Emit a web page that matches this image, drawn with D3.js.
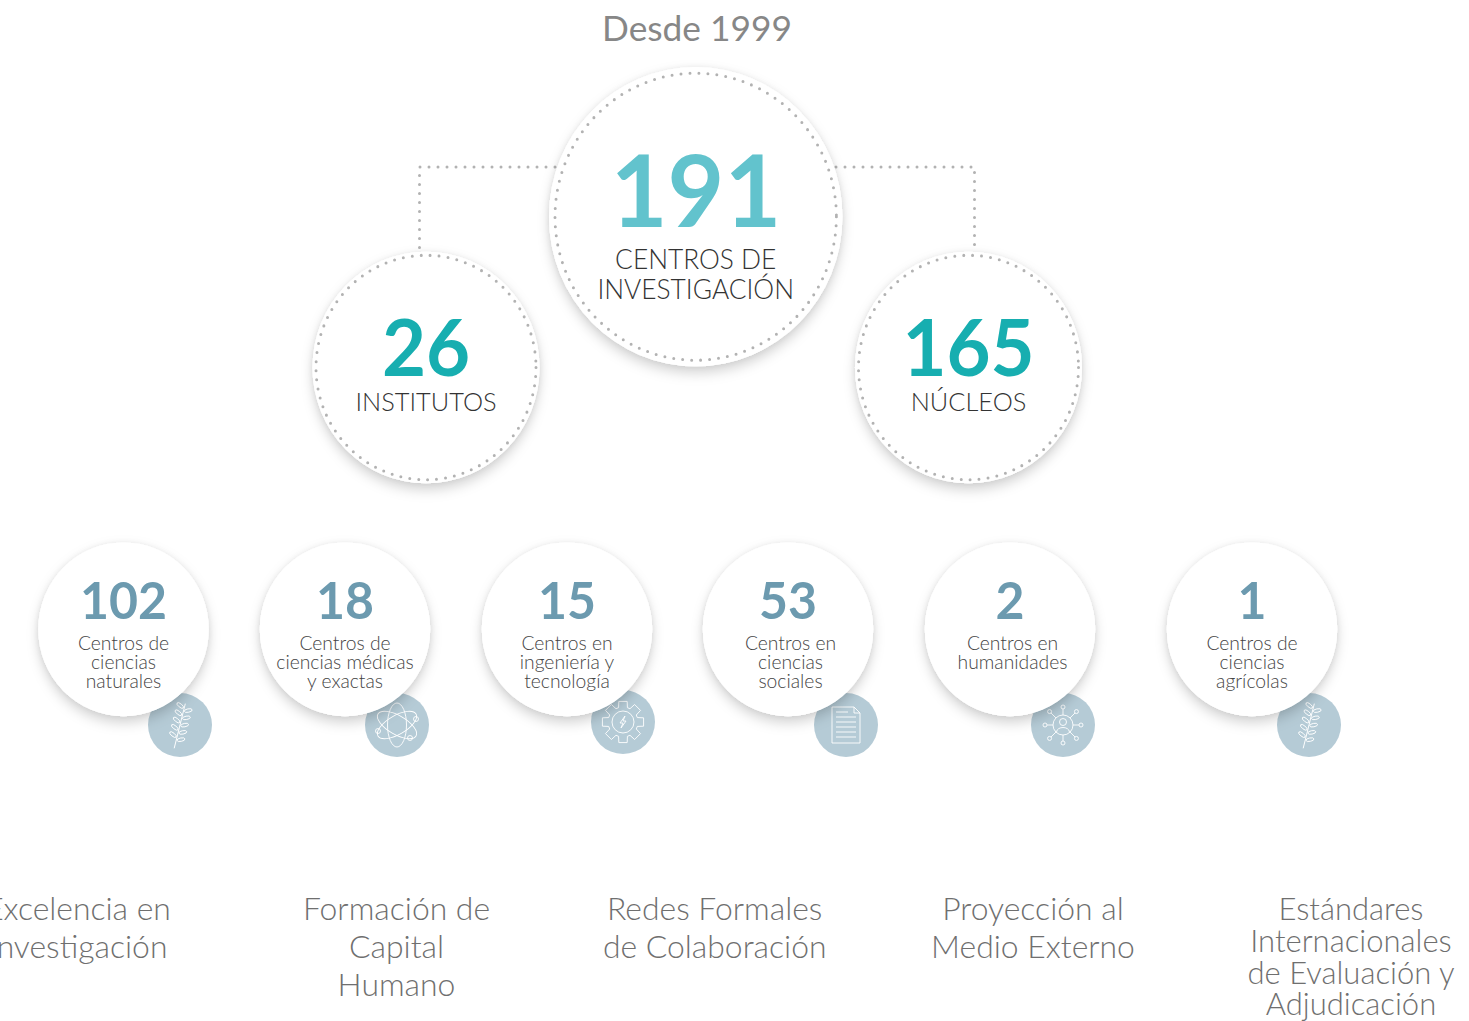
<!DOCTYPE html>
<html>
<head>
<meta charset="utf-8">
<script src="https://cdnjs.cloudflare.com/ajax/libs/d3/7.8.5/d3.min.js"></script>
<style>
  html, body { margin: 0; padding: 0; background: #fff; overflow: hidden; }
  text { font-family: Lato, sans-serif; text-anchor: middle; font-variant-ligatures: common-ligatures; }
</style>
</head>
<body>
<div id="chart"></div>
<script>
const title = "Desde 1999"

const mainValue = 191
const mainLabel = ["CENTROS DE", "INVESTIGACIÓN"]

const typeNames = ["INSTITUTOS", "NÚCLEOS"]
const typeValues = [26, 165]

const areaKeys = ["naturales", "medicas", "ingenieria", "sociales", "humanidades", "agricolas"]
const areaValues = [102, 18, 15, 53, 2, 1]
const areaLabels = [
    ["Centros de", "ciencias", "naturales"],
    ["Centros de", "ciencias médicas", "y exactas"],
    ["Centros en", "ingeniería y", "tecnología"],
    ["Centros en", "ciencias", "sociales"],
    ["Centros en", "humanidades"],
    ["Centros de", "ciencias", "agrícolas"]
]
const areaIcons = ["sprig", "atom", "gear", "doc", "network", "sprig"]

const pillars = [
    ["Excelencia en", "Investigación"],
    ["Formación de", "Capital", "Humano"],
    ["Redes Formales", "de Colaboración"],
    ["Proyección al", "Medio Externo"],
    ["Estándares", "Internacionales", "de Evaluación y", "Adjudicación"]
]

const width = 1469, height = 1021
// the original artwork is very slightly taller than wide
const stretch = 1.02

const svg = d3.select("#chart")
    .append("svg")
    .attr("width", width)
    .attr("height", height)

// soft shadow used by all the white circles
const defs = svg.append("defs")
const shadow = defs.append("filter")
    .attr("id", "shadow")
    .attr("x", "-30%").attr("y", "-30%")
    .attr("width", "160%").attr("height", "160%")
shadow.append("feDropShadow")
    .attr("dx", 0).attr("dy", 0).attr("stdDeviation", 2.5)
    .attr("flood-color", "#000").attr("flood-opacity", 0.06)
const shadow2 = defs.append("filter")
    .attr("id", "shadowBig")
    .attr("x", "-30%").attr("y", "-30%")
    .attr("width", "160%").attr("height", "160%")
shadow2.append("feDropShadow")
    .attr("dx", 0).attr("dy", 6).attr("stdDeviation", 6)
    .attr("flood-color", "#000").attr("flood-opacity", 0.18)

function whiteCircle(g, r) {
    g.append("circle").attr("r", r).attr("fill", "#fff").attr("filter", "url(#shadowBig)")
    g.append("circle").attr("r", r).attr("fill", "#fff").attr("filter", "url(#shadow)")
}

function dotStyle(sel) {
    return sel.attr("fill", "none")
        .attr("stroke", "#b2b2b2")
        .attr("stroke-width", 3)
        .attr("stroke-linecap", "round")
        .attr("stroke-dasharray", "0 9")
}

svg.append("text")
    .attr("x", 697).attr("y", 41)
    .attr("font-size", 35.3)
    .attr("fill", "#878787")
    .text(title)

// connectors, behind the circles
const typeX = d3.scaleOrdinal().domain(typeNames).range([426, 968.5])
const connector = d3.line()
dotStyle(svg.append("path")
    .attr("d", connector([[600, 167], [419.5, 167], [419.5, 260]])))
dotStyle(svg.append("path")
    .attr("d", connector([[800, 167], [974.5, 167], [974.5, 260]])))

// institutes and nuclei
typeNames.forEach((name, i) => {
    const g = svg.append("g").attr("transform", `translate(${typeX(name)}, 367.5) scale(1, ${stretch})`)
    whiteCircle(g, 113.5)
    dotStyle(g.append("circle").attr("r", 110))
    g.append("text")
        .attr("y", 8.5).attr("font-size", 76).attr("font-weight", 700)
        .attr("fill", "#17aeb0")
        .text(typeValues[i])
    g.append("text")
        .attr("y", 43).attr("font-size", 25.4).attr("font-weight", 300)
        .attr("fill", "#333")
        .text(name)
})

// main circle
const main = svg.append("g").attr("transform", `translate(695.7, 216.7) scale(1, ${stretch})`)
whiteCircle(main, 146.7)
dotStyle(main.append("circle").attr("r", 140.7))
main.append("text")
    .attr("x", 0.3).attr("y", 9.8).attr("font-size", 98).attr("font-weight", 700)
    .attr("fill", "#62c3cd")
    .text(mainValue)
mainLabel.forEach((t, i) => {
    main.append("text")
        .attr("x", 0).attr("y", 51.6 + i * 29).attr("font-size", 26.3).attr("font-weight", 300)
        .attr("fill", "#333")
        .text(t)
})

// small white line icons inside the blue badges
const icons = {
    sprig(g) {
        const s = g.append("g").attr("transform", "rotate(14)")
        s.append("line").attr("x1", 0).attr("y1", 24).attr("x2", 0).attr("y2", -22)
        d3.range(-19, 14, 7.5).forEach(y => {
            s.append("ellipse").attr("cx", -4.5).attr("cy", y).attr("rx", 4).attr("ry", 1.7)
                .attr("transform", `rotate(25 -4.5 ${y})`)
            s.append("ellipse").attr("cx", 4.5).attr("cy", y + 3).attr("rx", 4).attr("ry", 1.7)
                .attr("transform", `rotate(-25 4.5 ${y + 3})`)
        })
    },
    atom(g) {
        [0, 60, 120].forEach(a => {
            g.append("ellipse").attr("rx", 9.5).attr("ry", 22)
                .attr("transform", `rotate(${a})`)
        })
        ;[[-19, 6], [19, -6], [13, 13]].forEach(p => {
            g.append("circle").attr("cx", p[0]).attr("cy", p[1]).attr("r", 2.5)
        })
    },
    gear(g) {
        const pts = []
        d3.range(0, 8).forEach(i => {
            const a = i * Math.PI / 4
            const w = 0.2
            ;[[15, -w - 0.1], [21, -w], [21, w], [15, w + 0.1]].forEach(p => {
                pts.push([p[0] * Math.cos(a + p[1]), p[0] * Math.sin(a + p[1])])
            })
        })
        g.append("path").attr("d", d3.line().curve(d3.curveLinearClosed)(pts))
        g.append("circle").attr("r", 11)
        g.append("path").attr("d", "M2,-6L-3,1L0,1L-2,6L3,-1L0,-1Z")
    },
    doc(g) {
        g.append("path").attr("d", "M-14,-18H8L14,-12V18H-14ZM8,-18V-12H14")
        ;[-13, -8, -3, 2, 7, 12].forEach((y, i) => {
            g.append("line").attr("x1", -10).attr("x2", i == 0 ? 2 : 10).attr("y1", y).attr("y2", y)
        })
    },
    network(g) {
        g.append("circle").attr("r", 10)
        g.append("circle").attr("cy", -3).attr("r", 3.5)
        g.append("path").attr("d", "M-6.5,7C-6,1 6,1 6.5,7")
        d3.range(0, 8).forEach(i => {
            const a = i * Math.PI / 4
            const c = Math.cos(a), s = Math.sin(a)
            const r = i % 2 ? 17 : 16
            g.append("line").attr("x1", 10 * c).attr("y1", 10 * s).attr("x2", r * c).attr("y2", r * s)
            g.append("circle").attr("cx", (r + 2) * c).attr("cy", (r + 2) * s).attr("r", 2)
        })
    }
}

// areas row
const areaX = d3.scaleOrdinal().domain(areaKeys).range([123.5, 345, 567, 788, 1010, 1252])
const labelShift = d3.scaleOrdinal().domain(areaKeys).range([0, 0, 0, 2.5, 2.5, 0])
const badgeX = d3.scaleOrdinal().domain(areaKeys).range([180, 397, 623, 846, 1063, 1309])
const badgeY = d3.scaleOrdinal().domain(areaKeys).range([725, 725, 722, 725, 725, 725])

areaKeys.forEach((key, i) => {
    const badge = svg.append("g").attr("transform", `translate(${badgeX(key)}, ${badgeY(key)})`)
    badge.append("circle").attr("r", 32).attr("fill", "#b5cbd6")
    const ic = badge.append("g")
        .attr("fill", "none").attr("stroke", "#fff").attr("stroke-width", 0.9)
    icons[areaIcons[i]](ic)
})

// the white circles go on top of the badges
areaKeys.forEach((key, i) => {
    const g = svg.append("g").attr("transform", `translate(${areaX(key)}, 629.3) scale(1, ${stretch})`)
    whiteCircle(g, 85.2)
    g.append("text")
        .attr("y", -10).attr("font-size", 50).attr("font-weight", 700)
        .attr("fill", "#6c9aaf")
        .text(areaValues[i])
    areaLabels[i].forEach((t, j) => {
        g.append("text")
            .attr("x", labelShift(key))
            .attr("y", 20 + j * 18.6).attr("font-size", 19.3).attr("font-weight", 300)
            .attr("fill", "#444")
            .text(t)
    })
})

// bottom row
const pillarX = d3.scaleOrdinal().domain(pillars.map(d => d[0])).range([78, 396.5, 714.7, 1033, 1351])
pillars.forEach(lines => {
    const four = lines.length == 4
    lines.forEach((t, j) => {
        svg.append("text")
            .attr("x", pillarX(lines[0]))
            .attr("y", 920 + j * (four ? 31.8 : 38))
            .attr("font-size", four ? 31 : 31.9).attr("font-weight", 300)
            .attr("fill", "#6f6f6f")
            .text(t)
    })
})
</script>
</body>
</html>
